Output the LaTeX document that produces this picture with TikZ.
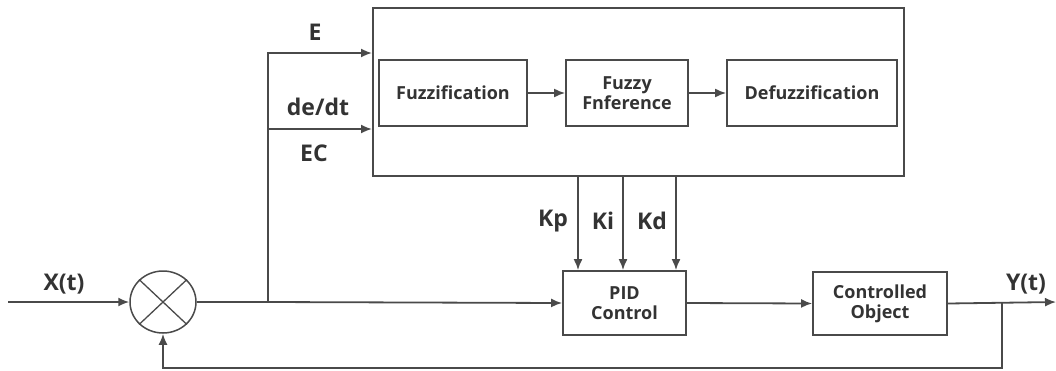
\documentclass[tikz,border=0pt]{standalone}
\usepackage{fontspec}
\setmainfont{Open Sans}
\usetikzlibrary{arrows.meta,calc,shapes.geometric}
\definecolor{ln}{HTML}{4A4A4A}
\definecolor{tx}{HTML}{333333}
\begin{document}
\begin{tikzpicture}[x=1pt,y=-1pt,
  line width=1.8pt, draw=ln,
  arr/.style={-{Latex[length=11pt,width=9pt]}, draw=ln},
  blk/.style={draw=ln, line width=1.8pt, fill=white, inner sep=0pt, align=center,
              font=\fontsize{18}{20}\selectfont\bfseries, text=tx},
  lbl/.style={font=\fontsize{23}{25}\selectfont\bfseries, text=tx, inner sep=0pt}]
\useasboundingbox (0,0) rectangle (1056,370);

% fuzzy controller frame and its three stages
\node[blk, minimum width=531pt, minimum height=168pt, anchor=north west] (fz) at (372,7) {};
\node[blk, minimum width=148pt, minimum height=66pt] (fuz) at (453,93) {Fuzzification};
\node[blk, minimum width=122pt, minimum height=66pt] (inf) at (627,93) {Fuzzy\\Fnference};
\node[blk, minimum width=170pt, minimum height=66pt] (def) at (812,93) {Defuzzification};
\draw[arr] (fuz) -- (inf);
\draw[arr] (inf) -- (def);

% loop blocks
\node[draw=ln, line width=1.5pt, ellipse, minimum width=66pt, minimum height=62pt, inner sep=0pt] (sum) at (163,302) {};
\draw[line width=1.3pt] (sum.north west) -- (sum.south east) (sum.north east) -- (sum.south west);
\node[blk, minimum width=123pt, minimum height=64pt] (pid) at (624.5,303) {PID\\Control};
\node[blk, minimum width=134pt, minimum height=63pt] (obj) at (880,303.5) {Controlled\\Object};

% signal path
\coordinate (in) at (8,302);
\coordinate (br) at (268,302);
\coordinate (out) at (1056,302);
\coordinate (tap) at (1002,302);
\draw[arr] (in) -- (sum.west);
\draw (sum.east) -- (br);
\draw[arr] (br) -- (pid.west);
\draw[arr] (pid.east) -- (obj.west);
\draw[arr] (obj.east) -- (out);
\draw[arr] (tap) -- (1002,368) -- (163,368) -- (sum.south);

% error and error rate into the fuzzy controller
\draw[arr] (br) -- (268,53) -- (fz.west |- 0,53);
\draw[arr] (268,129) -- (fz.west |- 0,129);

% gains
\draw[arr] (578,175) -- (pid.north -| 578,0);
\draw[arr] (623,175) -- (pid.north -| 623,0);
\draw[arr] (676,175) -- (pid.north -| 676,0);

% labels
\node[lbl] (le) at (315,32) {E};
\node[lbl] (ld) at (318,107) {de/dt};
\node[lbl] (lec) at (314,153) {EC};
\node[lbl] (lx) at (64,284) {X(t)};
\node[lbl] (ly) at (1026,284) {Y(t)};
\node[lbl] (lp) at (553,221) {Kp};
\node[lbl] (li) at (603,221) {Ki};
\node[lbl] (lk) at (652,221) {Kd};
\end{tikzpicture}
\end{document}
